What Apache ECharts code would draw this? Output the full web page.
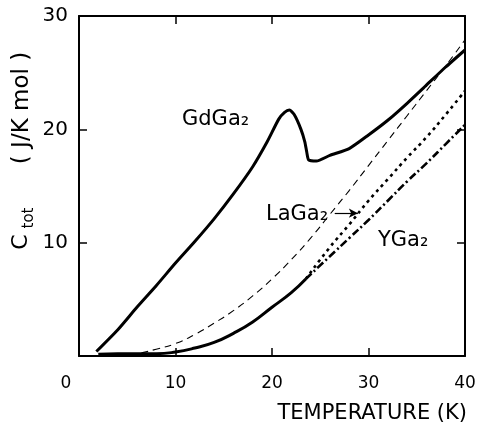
<!DOCTYPE html>
<html>
<head>
<meta charset="utf-8">
<script src="https://cdn.jsdelivr.net/npm/echarts@6/dist/echarts.min.js"></script>
<style>
  html, body { margin: 0; padding: 0; background: #fff; }
  #chart { width: 480px; height: 423px; }
</style>
</head>
<body>
<div id="chart"></div>
<script>
// temperature (K) / total heat capacity (J/K mol)
const gdT = [1.8, 4, 6, 8, 10, 12, 14, 16, 18, 19.5, 20.7, 21.3, 21.8, 22.3, 23.0, 23.4, 23.6, 23.8, 24.6, 26, 28, 30, 32, 34, 36, 38, 40];
const gdC = [0.4, 2.3, 4.3, 6.2, 8.2, 10.1, 12.1, 14.3, 16.7, 18.9, 20.9, 21.5, 21.7, 21.3, 20.0, 18.9, 18.0, 17.3, 17.2, 17.7, 18.3, 19.5, 20.8, 22.3, 23.9, 25.5, 27.0];

// dashed reference curve
const dashT = [4, 6, 8, 10, 12, 14, 16, 18, 20, 22, 24, 26, 28, 30, 32, 34, 36, 38, 40];
const dashC = [0, 0.2, 0.6, 1.1, 1.9, 2.9, 4.0, 5.3, 6.8, 8.5, 10.4, 12.5, 14.6, 16.8, 19.0, 21.2, 23.4, 25.6, 27.9];

// LaGa2 and YGa2 lie on top of each other up to ~23.5 K
const baseT = [2.0, 4, 6, 8, 10, 12, 14, 16, 18, 20, 22, 23.5];
const baseC = [0.15, 0.2, 0.2, 0.2, 0.35, 0.7, 1.2, 2.0, 3.0, 4.3, 5.6, 6.8];

const laT = [23.5, 26, 28, 30, 32, 34, 36, 38, 40];
const laC = [6.8, 9.6, 11.6, 13.7, 15.6, 17.5, 19.3, 21.3, 23.4];

const yT = [23.5, 26, 28, 30, 32, 34, 36, 38, 40];
const yC = [6.8, 8.8, 10.4, 12.0, 13.7, 15.4, 17.0, 18.7, 20.4];

// arrow pointing from the LaGa2 label to its curve
const arrowFrom = [26.5, 12.6];
const arrowTo = [28.9, 12.6];

const xTicks = [0, 40, 10];   // min, max, interval
const yTicks = [0, 30, 10];

const zip = (a, b) => a.map((v, i) => [v, b[i]]);

const font = "DejaVu Sans";
const ink = "#000";

const chart = echarts.init(document.getElementById("chart"));

const frameAxis = {
  type: "value",
  axisLine: { show: true, onZero: false, lineStyle: { color: ink, width: 2 } },
  axisTick: { show: true, inside: true, length: 8, lineStyle: { color: ink, width: 1.5 } },
  splitLine: { show: false },
};

chart.setOption({
  animation: false,
  backgroundColor: "#fff",
  grid: { left: 79, right: 15, top: 16, bottom: 67 },
  xAxis: [
    {
      ...frameAxis,
      position: "bottom",
      min: xTicks[0], max: xTicks[1], interval: xTicks[2],
      axisLabel: {
        color: ink, fontFamily: font, fontSize: 17, margin: 19,
        formatter: (v) => (v === 0 ? "{z|0}" : String(v)),
        rich: { z: { fontFamily: font, fontSize: 17, color: ink, padding: [0, 26, 0, 0] } },
      },
    },
    {
      ...frameAxis,
      position: "top",
      min: xTicks[0], max: xTicks[1], interval: xTicks[2],
      axisLabel: { show: false },
    },
  ],
  yAxis: [
    {
      ...frameAxis,
      position: "left",
      min: yTicks[0], max: yTicks[1], interval: yTicks[2],
      axisLabel: { color: ink, fontFamily: font, fontSize: 20, margin: 11, showMinLabel: false },
    },
    {
      ...frameAxis,
      position: "right",
      min: yTicks[0], max: yTicks[1], interval: yTicks[2],
      axisLabel: { show: false },
    },
  ],
  series: [
    {
      name: "GdGa2",
      type: "line",
      data: zip(gdT, gdC),
      showSymbol: false,
      smooth: 0.2,
      lineStyle: { color: ink, width: 3 },
    },
    {
      name: "dashed",
      type: "line",
      data: zip(dashT, dashC),
      showSymbol: false,
      smooth: true,
      lineStyle: { color: ink, width: 1.1, type: [7, 5] },
    },
    {
      name: "LaGa2/YGa2",
      type: "line",
      data: zip(baseT, baseC),
      showSymbol: false,
      smooth: true,
      lineStyle: { color: ink, width: 3 },
    },
    {
      name: "LaGa2",
      type: "line",
      data: zip(laT, laC),
      showSymbol: false,
      smooth: true,
      lineStyle: { color: ink, width: 2.6, type: [3, 4] },
      markLine: {
        silent: true,
        symbol: ["none", "arrow"],
        symbolSize: [7, 9],
        label: { show: false },
        lineStyle: { color: ink, width: 1.2, type: "solid" },
        data: [[{ coord: arrowFrom }, { coord: arrowTo }]],
      },
    },
    {
      name: "YGa2",
      type: "line",
      data: zip(yT, yC),
      showSymbol: false,
      smooth: true,
      lineStyle: { color: ink, width: 2.6, type: [8, 3, 2, 3] },
    },
  ],
  graphic: [
    { type: "text", left: 182, top: 109, style: { text: "GdGa₂", font: "21px " + font, fill: ink } },
    { type: "text", left: 266, top: 204, style: { text: "LaGa₂", font: "21px " + font, fill: ink } },
    { type: "text", left: 378, top: 230, style: { text: "YGa₂", font: "21px " + font, fill: ink } },
    { type: "text", right: 13, top: 403, style: { text: "TEMPERATURE (K)", font: "21px " + font, fill: ink } },
    // y axis title, rotated, C with subscript tot
    { type: "text", x: 21, y: 242, rotation: Math.PI / 2,
      style: { text: "C", font: "22px " + font, fill: ink, align: "center", verticalAlign: "middle" } },
    { type: "text", x: 29, y: 218, rotation: Math.PI / 2,
      style: { text: "tot", font: "15px " + font, fill: ink, align: "center", verticalAlign: "middle" } },
    { type: "text", x: 22, y: 108, rotation: Math.PI / 2,
      style: { text: "( J/K mol )", font: "23px " + font, fill: ink, align: "center", verticalAlign: "middle" } },
  ],
});
</script>
</body>
</html>
